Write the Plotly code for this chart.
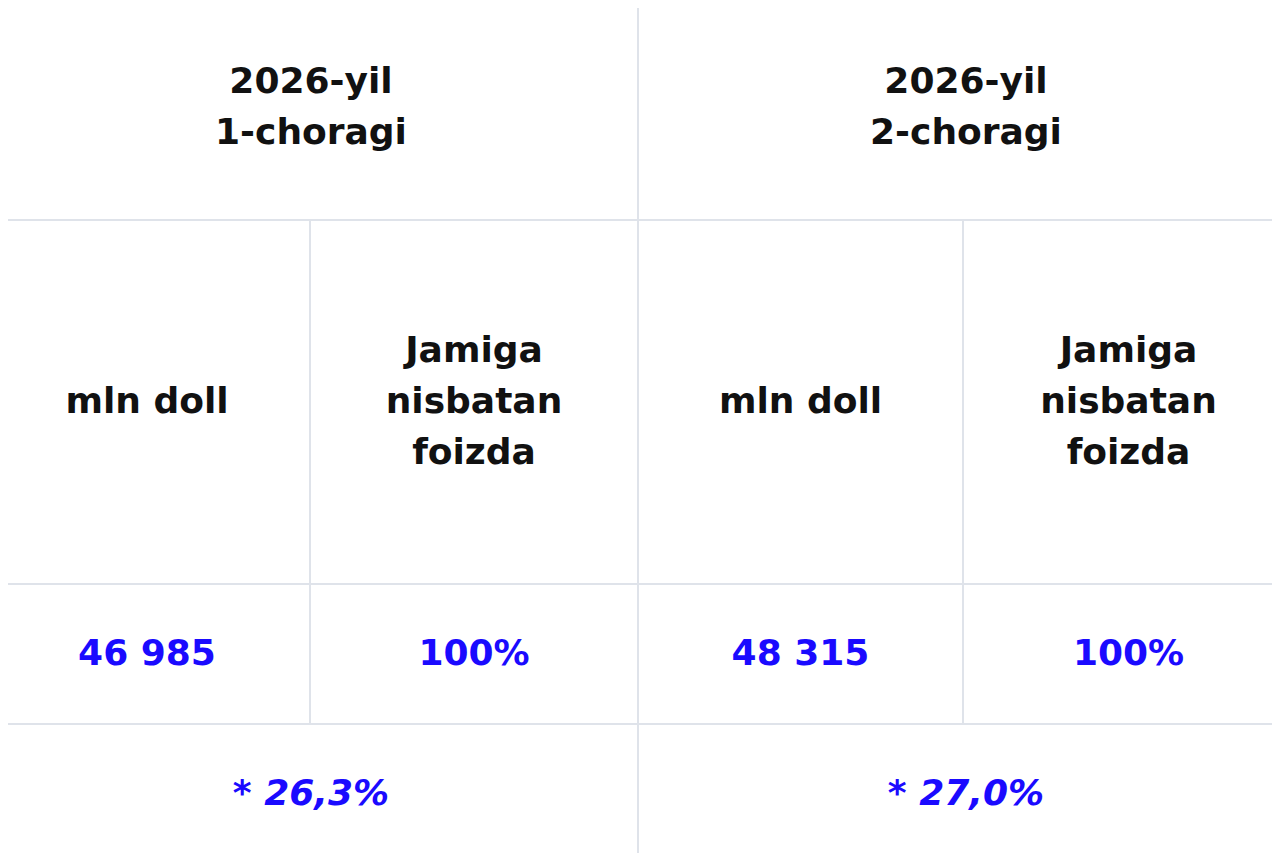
"""Quarterly totals table (2026, Q1/Q2) drawn as a Plotly figure."""

import plotly.graph_objects as go

# --- data -------------------------------------------------------------
periods = ["2026-yil<br>1-choragi", "2026-yil<br>2-choragi"]
sub_headers = ["mln doll", "Jamiga<br>nisbatan<br>foizda"]
values_mln = ["46 985", "48 315"]
values_pct = ["100%", "100%"]
footnotes = ["* 26,3%", "* 27,0%"]

# --- layout of the grid (pixel space, table is slightly cropped) ------
W, H = 1280, 853
PAGE_OFFSET = 8                               # body margin of the html page
col_edges = [-16, 310, 638, 963, 1294]       # sub-column boundaries
row_edges = [-6, 220, 584, 724, 864]          # header / sub / values / footnote
LINE_GAP = 51                                 # distance between wrapped lines
NUDGE = 2
GRID = "#dfe3ea"
BLACK = "#111111"
BLUE = "#1a0aff"
FONT = "DejaVu Sans"

xs, ys, texts, colors = [], [], [], []


def put(label, c0, c1, r, color, italic=False):
    """Place a (possibly multi-line) label centred in the cell c0..c1 x row r."""
    lines = label.split("<br>")
    cx = (col_edges[c0] + col_edges[c1]) / 2
    cy = (row_edges[r] + row_edges[r + 1]) / 2 + NUDGE
    for k, line in enumerate(lines):
        xs.append(cx)
        ys.append(cy + (k - (len(lines) - 1) / 2) * LINE_GAP)
        texts.append(f"<b><i>{line}</i></b>" if italic else f"<b>{line}</b>")
        colors.append(color)


for i, label in enumerate(periods):
    put(label, 2 * i, 2 * i + 2, 0, BLACK)
    for j, sub in enumerate(sub_headers):
        put(sub, 2 * i + j, 2 * i + j + 1, 1, BLACK)
    put(values_mln[i], 2 * i, 2 * i + 1, 2, BLUE)
    put(values_pct[i], 2 * i + 1, 2 * i + 2, 2, BLUE)
    put(footnotes[i], 2 * i, 2 * i + 2, 3, BLUE, italic=True)

fig = go.Figure(
    go.Scatter(
        x=xs,
        y=ys,
        mode="text",
        text=texts,
        textposition="middle center",
        textfont=dict(family=FONT, size=36, color=colors),
        hoverinfo="skip",
    )
)

# grid lines
shapes = []
for y in row_edges[1:4]:
    shapes.append(dict(type="line", x0=0, x1=W + PAGE_OFFSET, y0=y, y1=y))
shapes.append(dict(type="line", x0=col_edges[2], x1=col_edges[2], y0=0, y1=H + PAGE_OFFSET))
for x in (col_edges[1], col_edges[3]):
    shapes.append(dict(type="line", x0=x, x1=x, y0=row_edges[1], y1=row_edges[3]))
for s in shapes:
    s.update(xref="x", yref="y", line=dict(color=GRID, width=2), layer="below")

fig.update_layout(
    width=W,
    height=H,
    margin=dict(l=0, r=0, t=0, b=0),
    paper_bgcolor="white",
    plot_bgcolor="white",
    showlegend=False,
    shapes=shapes,
    xaxis=dict(range=[PAGE_OFFSET, W + PAGE_OFFSET], visible=False, fixedrange=True),
    yaxis=dict(range=[H + PAGE_OFFSET, PAGE_OFFSET], visible=False, fixedrange=True),
)

fig.write_html("out.html")
